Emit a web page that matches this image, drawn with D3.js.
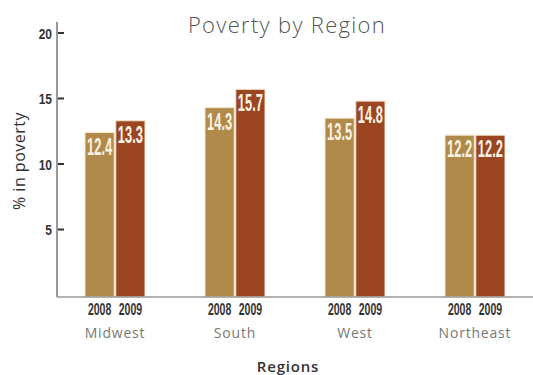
<!DOCTYPE html>
<html>
<head>
<meta charset="utf-8">
<script src="https://cdnjs.cloudflare.com/ajax/libs/d3/7.8.5/d3.min.js"></script>
<style>
  body { margin: 0; background: #fff; }
  .narrow { font-family: "Liberation Sans", Arial, sans-serif; font-weight: bold; }
</style>
</head>
<body>
<svg id="chart" width="533" height="375"></svg>
<script>
"use strict";

// chart data
var regions = ["Midwest", "South", "West", "Northeast"]
var years = ["2008", "2009"]
var values2008 = [12.4, 14.3, 13.5, 12.2]
var values2009 = [13.3, 15.7, 14.8, 12.2]
var yTicks = [5, 10, 15, 20]

var colors = { "2008": "#b08a4a", "2009": "#9b4523" }

var svg = d3.select("#chart")

var x = d3.scaleBand()
    .domain(regions)
    .range([55, 535])
    .paddingInner(0.5)
    .paddingOuter(0.25)

var xYear = d3.scaleBand()
    .domain(years)
    .range([0, x.bandwidth()])
    .paddingInner(0.05)

var y = d3.scaleLinear()
    .domain([0, 20])
    .range([295, 33])

var data = []
regions.forEach(function(r, i) {
  data.push({ region: r, year: "2008", value: values2008[i] })
  data.push({ region: r, year: "2009", value: values2009[i] })
})

function barCenter(d) {
  return x(d.region) + xYear(d.year) + xYear.bandwidth() / 2
}

// title
svg.append("text")
    .attr("x", 287)
    .attr("y", 33)
    .attr("text-anchor", "middle")
    .style("font-family", "'Open Sans', sans-serif")
    .style("font-weight", 300)
    .style("font-size", "22px")
    .style("letter-spacing", "1.3px")
    .style("fill", "#555")
    .text("Poverty by Region")

// y axis
var gy = svg.append("g")
    .attr("transform", "translate(57,0)")

gy.selectAll(".tick")
    .data(yTicks)
    .enter()
    .append("line")
    .attr("x1", 0)
    .attr("x2", 7)
    .attr("y1", function(d) { return y(d) })
    .attr("y2", function(d) { return y(d) })
    .attr("stroke", "#333")
    .attr("stroke-width", 2)

gy.selectAll(".tlabel")
    .data(yTicks)
    .enter()
    .append("text")
    .attr("class", "narrow")
    .attr("transform", function(d) { return "translate(-5," + (y(d) + 5.5) + ") scale(0.8,1)" })
    .attr("text-anchor", "end")
    .style("font-size", "15px")
    .style("fill", "#333")
    .text(function(d) { return d })

svg.append("line")
    .attr("x1", 57).attr("x2", 57)
    .attr("y1", 22).attr("y2", 297)
    .attr("stroke", "#999")
    .attr("stroke-width", 2)

// bars
svg.selectAll(".bar")
    .data(data)
    .enter()
    .append("rect")
    .attr("class", "bar")
    .attr("x", function(d) { return x(d.region) + xYear(d.year) })
    .attr("y", function(d) { return y(d.value) })
    .attr("width", xYear.bandwidth())
    .attr("height", function(d) { return 297 - y(d.value) })
    .style("fill", function(d) { return colors[d.year] })
    .style("stroke", "#f6e6cc")
    .style("stroke-width", 1)

// value labels
svg.selectAll(".val")
    .data(data)
    .enter()
    .append("text")
    .attr("class", "narrow")
    .attr("transform", function(d) { return "translate(" + barCenter(d) + "," + (y(d.value) + 22) + ") scale(0.56,1)" })
    .attr("text-anchor", "middle")
    .style("font-size", "23px")
    .style("fill", "#fbf3e4")
    .text(function(d) { return d.value.toFixed(1) })

// baseline
svg.append("line")
    .attr("x1", 57).attr("x2", 533)
    .attr("y1", 297).attr("y2", 297)
    .attr("stroke", "#999")
    .attr("stroke-width", 1.5)

// year labels
svg.selectAll(".yr")
    .data(data)
    .enter()
    .append("text")
    .attr("class", "narrow")
    .attr("transform", function(d) { return "translate(" + barCenter(d) + ",315) scale(0.66,1)" })
    .attr("text-anchor", "middle")
    .style("font-size", "16px")
    .style("fill", "#333")
    .text(function(d) { return d.year })

// region labels
svg.selectAll(".reg")
    .data(regions)
    .enter()
    .append("text")
    .attr("x", function(d) { return x(d) + x.bandwidth() / 2 })
    .attr("y", 338)
    .attr("text-anchor", "middle")
    .style("font-family", "'Open Sans', sans-serif")
    .style("font-size", "14px")
    .style("letter-spacing", "0.8px")
    .style("fill", "#777")
    .text(function(d) { return d })

// axis titles
svg.append("text")
    .attr("x", 288)
    .attr("y", 372)
    .attr("text-anchor", "middle")
    .style("font-family", "'Open Sans', sans-serif")
    .style("font-size", "15px")
    .style("font-weight", 600)
    .style("letter-spacing", "0.8px")
    .style("fill", "#333")
    .text("Regions")

svg.append("text")
    .attr("transform", "translate(25,161) rotate(-90)")
    .attr("text-anchor", "middle")
    .style("font-family", "'Open Sans', sans-serif")
    .style("font-size", "16px")
    .style("letter-spacing", "0.5px")
    .style("fill", "#333")
    .text("% in poverty")
</script>
</body>
</html>
